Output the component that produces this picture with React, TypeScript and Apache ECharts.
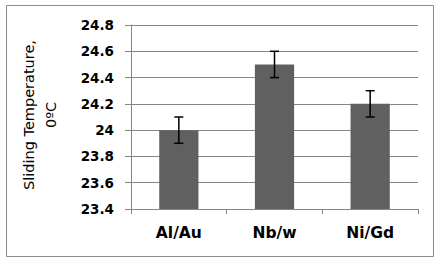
import React, { useEffect, useRef } from "react";
import * as echarts from "echarts";

const categories = ["Al/Au", "Nb/w", "Ni/Gd"];
const values = [24.0, 24.5, 24.2];
const errLow = [23.9, 24.4, 24.1];
const errHigh = [24.1, 24.6, 24.3];
const yMin = 23.4;
const yMax = 24.8;
const yInterval = 0.2;

export default function App() {
  const ref = useRef<HTMLDivElement>(null);
  useEffect(() => {
    const chart = echarts.init(ref.current!, null, { renderer: "svg" });
    const font = "DejaVu Sans";
    chart.setOption({
      animation: false,
      backgroundColor: "#ffffff",
      grid: { left: 131, top: 25, right: 24, bottom: 54, containLabel: false },
      graphic: [
        {
          type: "rect",
          shape: { x: 6.5, y: 5.5, width: 427, height: 251 },
          style: { fill: "none", stroke: "#8c8c8c", lineWidth: 1 },
          silent: true,
        },
        {
          type: "text",
          x: 40,
          y: 115,
          rotation: Math.PI / 2,
          style: {
            text: "Sliding Temperature,\n0ºC",
            font: `14.5px '${font}'`,
            fill: "#000",
            align: "center",
            verticalAlign: "middle",
            lineHeight: 22,
          },
        },
      ],
      xAxis: {
        type: "category",
        data: categories,
        axisLine: { show: true, lineStyle: { color: "#868686", width: 1 } },
        axisTick: { show: true, length: 5, lineStyle: { color: "#868686" } },
        axisLabel: {
          fontFamily: font,
          fontWeight: "bold",
          fontSize: 15.5,
          color: "#000",
          margin: 16,
        },
      },
      yAxis: {
        type: "value",
        min: yMin,
        max: yMax,
        interval: yInterval,
        axisLine: { show: true, lineStyle: { color: "#868686", width: 1 } },
        axisTick: { show: true, length: 6, lineStyle: { color: "#868686" } },
        splitLine: { show: true, lineStyle: { color: "#868686", width: 1 } },
        axisLabel: {
          fontFamily: font,
          fontWeight: "bold",
          fontSize: 13.5,
          color: "#000",
          margin: 17,
          formatter: (v: number) => String(parseFloat(v.toFixed(1))),
        },
      },
      series: [
        {
          type: "bar",
          data: values,
          barWidth: "41%",
          itemStyle: { color: "#606060" },
        },
        {
          type: "custom",
          data: categories.map((_, i) => [i, errLow[i], errHigh[i]]),
          renderItem: (params: any, api: any) => {
            const x = api.value(0);
            const lo = api.coord([x, api.value(1)]);
            const hi = api.coord([x, api.value(2)]);
            const cap = 4.5;
            const style = { stroke: "#000", lineWidth: 1.5 };
            return {
              type: "group",
              children: [
                { type: "line", shape: { x1: lo[0], y1: lo[1], x2: hi[0], y2: hi[1] }, style },
                { type: "line", shape: { x1: lo[0] - cap, y1: lo[1], x2: lo[0] + cap, y2: lo[1] }, style },
                { type: "line", shape: { x1: hi[0] - cap, y1: hi[1], x2: hi[0] + cap, y2: hi[1] }, style },
              ],
            };
          },
          z: 10,
        },
      ],
    });
    return () => chart.dispose();
  }, []);
  return (
    <div
      ref={ref}
      style={{ position: "absolute", left: 0, top: 0, width: 442, height: 263 }}
    />
  );
}
